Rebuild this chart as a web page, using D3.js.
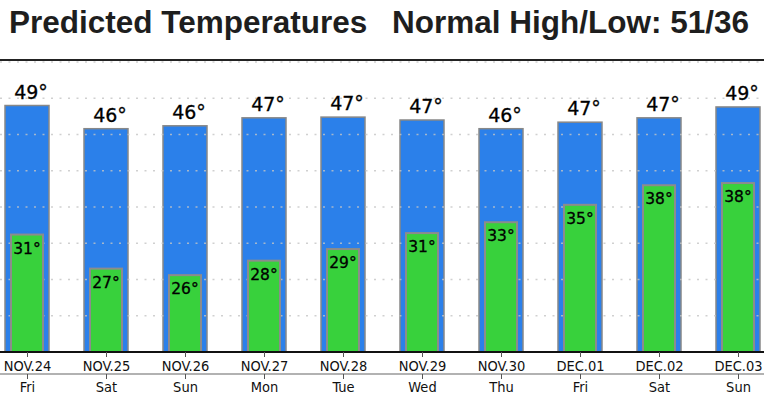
<!DOCTYPE html>
<meta charset="utf-8">
<html lang="en">
<head>
	<meta charset="utf-8">
	<title>Predicted Temperatures</title>
	<script type="text/javascript" src="https://cdn.jsdelivr.net/npm/d3@7"></script>
	<style type="text/css">
		body { margin: 0; background: white; }
		svg { display: block; }
	</style>
</head>
<body>
	<script type="text/javascript">

// DATA
		var dates = ["NOV.24", "NOV.25", "NOV.26", "NOV.27", "NOV.28", "NOV.29", "NOV.30", "DEC.01", "DEC.02", "DEC.03"];
		var days = ["Fri", "Sat", "Sun", "Mon", "Tue", "Wed", "Thu", "Fri", "Sat", "Sun"];
		var highs = [49.0, 45.8, 46.2, 47.3, 47.4, 47.0, 45.8, 46.7, 47.3, 48.8];
		var lows = [31.2, 26.5, 25.6, 27.6, 29.2, 31.4, 32.9, 35.3, 38.0, 38.3];
		var gridTicks = [20, 25, 30, 35, 40, 45, 50, 55];
		var titleLeft = "Predicted Temperatures";
		var titleRight = "Normal High/Low: 51/36";

// SIZE
		var w = 764;
		var h = 395;

		var svg = d3.select("body")
			.append("svg")
			.attr("width", w)
			.attr("height", h);

// SCALES
		var x = d3.scalePoint()
			.domain(dates)
			.range([27, 738]);

		var y = d3.scaleLinear()
			.domain([15, 55])
			.range([352, 62]);

		var blueW = 44;
		var greenW = 32;

// TITLE
		svg.append("text")
			.attr("x", 9)
			.attr("y", 33)
			.attr("font-family", "Liberation Sans, Arial, sans-serif")
			.attr("font-weight", "bold")
			.attr("font-size", "31.5px")
			.attr("fill", "#1e1e1e")
			.text(titleLeft);

		svg.append("text")
			.attr("x", 392)
			.attr("y", 33)
			.attr("font-family", "Liberation Sans, Arial, sans-serif")
			.attr("font-weight", "bold")
			.attr("font-size", "31.5px")
			.attr("fill", "#1e1e1e")
			.text(titleRight);

		svg.append("line")
			.attr("x1", 0).attr("x2", w)
			.attr("y1", 60).attr("y2", 60)
			.attr("stroke", "#222")
			.attr("stroke-width", 2);

// HIGH BARS
		svg.selectAll("rect.high")
			.data(highs)
			.enter()
			.append("rect")
			.attr("class", "high")
			.attr("x", function(d, i) { return x(dates[i]) - blueW / 2; })
			.attr("y", function(d) { return y(d); })
			.attr("width", blueW)
			.attr("height", function(d) { return y(15) - y(d); })
			.attr("fill", "#2b80ea")
			.attr("stroke", "#888")
			.attr("stroke-width", 1.5);

// GRID LINES (on top of the blue bars)
		svg.selectAll("line.grid")
			.data(gridTicks)
			.enter()
			.append("line")
			.attr("class", "grid")
			.attr("x1", 0).attr("x2", w)
			.attr("y1", function(d) { return y(d); })
			.attr("y2", function(d) { return y(d); })
			.attr("stroke", "#c4c4c4")
			.attr("stroke-opacity", 0.8)
			.attr("stroke-width", 1.5)
			.attr("stroke-dasharray", "2,6.5");

// LOW BARS
		svg.selectAll("rect.low")
			.data(lows)
			.enter()
			.append("rect")
			.attr("class", "low")
			.attr("x", function(d, i) { return x(dates[i]) - greenW / 2; })
			.attr("y", function(d) { return y(d); })
			.attr("width", greenW)
			.attr("height", function(d) { return y(15) - y(d); })
			.attr("fill", "#38d13c")
			.attr("stroke", "#8c8c8c")
			.attr("stroke-width", 2);

// LABELS
		svg.selectAll("text.high")
			.data(highs)
			.enter()
			.append("text")
			.attr("class", "high")
			.attr("x", function(d, i) { return x(dates[i]) + 4; })
			.attr("y", function(d) { return y(d) - 7; })
			.attr("text-anchor", "middle")
			.attr("font-family", "DejaVu Sans, sans-serif")
			.attr("font-size", "19px")
			.attr("fill", "#000")
			.attr("stroke", "#000")
			.attr("stroke-width", 0.3)
			.text(function(d) { return Math.round(d) + "\u00b0"; });

		svg.selectAll("text.low")
			.data(lows)
			.enter()
			.append("text")
			.attr("class", "low")
			.attr("x", function(d, i) { return x(dates[i]); })
			.attr("y", function(d) { return y(d) + 19; })
			.attr("text-anchor", "middle")
			.attr("font-family", "DejaVu Sans, sans-serif")
			.attr("font-size", "15.5px")
			.attr("fill", "#000")
			.attr("stroke", "#000")
			.attr("stroke-width", 0.3)
			.text(function(d) { return Math.round(d) + "\u00b0"; });

// BOTTOM AXIS
		var axisDate = svg.append("g")
			.attr("transform", "translate(0,352)")
			.call(d3.axisBottom(x).tickSize(5).tickPadding(4));

		axisDate.select(".domain")
			.attr("d", "M0,0H" + w)
			.attr("stroke", "#111")
			.attr("stroke-width", 2);

		axisDate.selectAll(".tick line").attr("stroke", "#555");

		axisDate.selectAll("text")
			.attr("font-family", "DejaVu Sans Condensed, DejaVu Sans, sans-serif")
			.attr("font-size", "14.5px")
			.attr("fill", "#111");

		var dayScale = d3.scalePoint()
			.domain(d3.range(days.length))
			.range([27, 738]);

		var axisDay = svg.append("g")
			.attr("transform", "translate(0,374)")
			.call(d3.axisBottom(dayScale).tickSize(5).tickPadding(3)
				.tickFormat(function(i) { return days[i]; }));

		axisDay.select(".domain")
			.attr("d", "M0,0H" + w)
			.attr("stroke", "#999")
			.attr("stroke-width", 1.5);

		axisDay.selectAll(".tick line").attr("stroke", "#555");

		axisDay.selectAll("text")
			.attr("font-family", "DejaVu Sans Condensed, DejaVu Sans, sans-serif")
			.attr("font-size", "14.5px")
			.attr("fill", "#111");

	</script>
</body>
</html>
